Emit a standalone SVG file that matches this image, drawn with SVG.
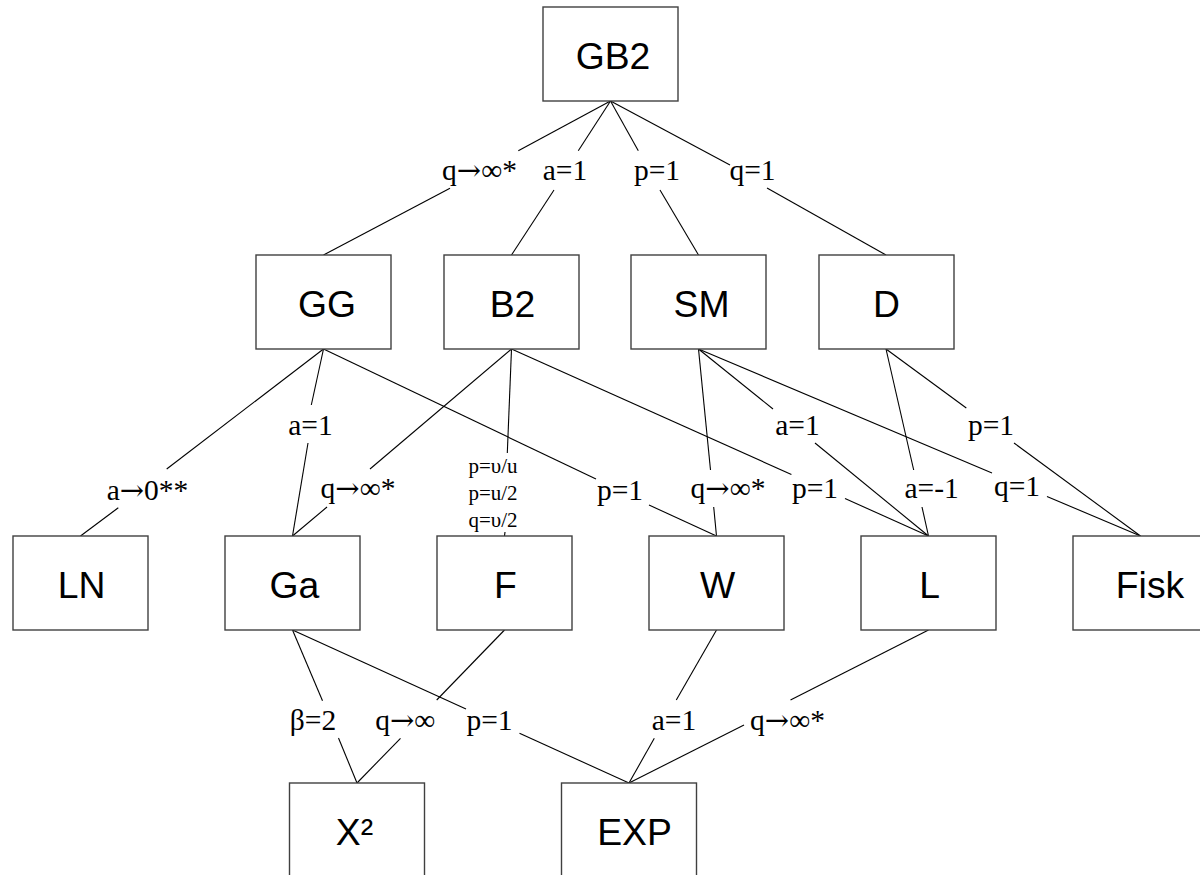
<svg xmlns="http://www.w3.org/2000/svg" width="1200" height="875" viewBox="0 0 1200 875">
<style>
.box{fill:#fff;stroke:#404040;stroke-width:1.4}
.nt{font-family:"Liberation Sans",Arial,sans-serif;font-size:37.3px;text-anchor:middle;fill:#000}
.lb{font-family:"Liberation Serif","Times New Roman",serif;font-size:29.5px;text-anchor:middle;fill:#000}
.sm{font-family:"Liberation Serif","Times New Roman",serif;font-size:21px;text-anchor:middle;fill:#000}
.ar{font-family:"DejaVu Serif","DejaVu Sans",serif;font-size:29px}
.cn line{stroke:#000;stroke-width:1.1}
</style>
<rect width="1200" height="875" fill="#fff"/>
<g id="connectors" class="cn">
<line x1="610.5" y1="101" x2="518.3" y2="150.7"/><line x1="450" y1="188.3" x2="323.5" y2="255"/>
<line x1="610.5" y1="101" x2="578.3" y2="150.7"/><line x1="554" y1="190" x2="511.5" y2="255"/>
<line x1="610.5" y1="101" x2="638.3" y2="150.7"/><line x1="660" y1="190" x2="698.5" y2="255"/>
<line x1="610.5" y1="101" x2="730" y2="165"/><line x1="767" y1="188" x2="886" y2="255"/>
<line x1="323.5" y1="349" x2="166.7" y2="469"/><line x1="118.3" y1="507.7" x2="80.5" y2="536"/>
<line x1="323.5" y1="349" x2="311.3" y2="405"/><line x1="308" y1="443" x2="292.5" y2="536"/>
<line x1="323.5" y1="349" x2="596" y2="479"/><line x1="649" y1="505" x2="716.5" y2="536"/>
<line x1="511.5" y1="349" x2="370" y2="469"/><line x1="327" y1="507" x2="292.5" y2="536"/>
<line x1="511.5" y1="349" x2="507.3" y2="453"/><line x1="505" y1="532" x2="504.5" y2="536"/>
<line x1="511.5" y1="349" x2="791.4" y2="474.5"/><line x1="845" y1="498.5" x2="928.5" y2="536"/>
<line x1="698.5" y1="349" x2="710.5" y2="470"/><line x1="713.7" y1="507" x2="716.5" y2="536"/>
<line x1="698.5" y1="349" x2="773" y2="409"/><line x1="815" y1="443" x2="928.5" y2="536"/>
<line x1="698.5" y1="349" x2="992" y2="473"/><line x1="1047" y1="496.5" x2="1140.5" y2="536"/>
<line x1="886" y1="349" x2="913.7" y2="470"/><line x1="922" y1="507" x2="928.5" y2="536"/>
<line x1="886" y1="349" x2="966.3" y2="408"/><line x1="1014" y1="443" x2="1140.5" y2="536"/>
<line x1="292.5" y1="630" x2="322.5" y2="700.7"/><line x1="338.5" y1="738" x2="357" y2="783"/>
<line x1="504.5" y1="630" x2="436.7" y2="700"/><line x1="400.5" y1="738.3" x2="357" y2="783"/>
<line x1="292.5" y1="630" x2="466" y2="708.9"/><line x1="519.5" y1="733.3" x2="629" y2="783"/>
<line x1="716.5" y1="630" x2="676.3" y2="700"/><line x1="654.3" y1="738.3" x2="629" y2="783"/>
<line x1="928.5" y1="630" x2="790.5" y2="700"/><line x1="744" y1="725" x2="629" y2="783"/>
</g>
<g id="labels">
<text class="lb" x="479.5" y="180">q<tspan class="ar">→</tspan>∞*</text>
<text class="lb" x="565" y="180">a=1</text>
<text class="lb" x="657" y="180">p=1</text>
<text class="lb" x="752.5" y="180">q=1</text>
<text class="lb" x="147.5" y="500">a<tspan class="ar">→</tspan>0**</text>
<text class="lb" x="310.5" y="435">a=1</text>
<text class="lb" x="358" y="498">q<tspan class="ar">→</tspan>∞*</text>
<text class="sm" x="493" y="473">p=υ/u</text>
<text class="sm" x="493" y="500">p=u/2</text>
<text class="sm" x="493" y="527">q=υ/2</text>
<text class="lb" x="620" y="500">p=1</text>
<text class="lb" x="728" y="498">q<tspan class="ar">→</tspan>∞*</text>
<text class="lb" x="815" y="498">p=1</text>
<text class="lb" x="797.5" y="435">a=1</text>
<text class="lb" x="931.6" y="498">a=-1</text>
<text class="lb" x="1017" y="496">q=1</text>
<text class="lb" x="991" y="435">p=1</text>
<text class="lb" x="313" y="730">β=2</text>
<text class="lb" x="405.3" y="730">q<tspan class="ar">→</tspan>∞</text>
<text class="lb" x="489.5" y="730">p=1</text>
<text class="lb" x="674" y="730">a=1</text>
<text class="lb" x="787.5" y="730">q<tspan class="ar">→</tspan>∞*</text>
</g>
<g id="GB2"><rect class="box" x="543" y="7" width="135" height="94"/><text class="nt" x="613" y="69">GB2</text></g>
<g id="GG"><rect class="box" x="256" y="255" width="135" height="94"/><text class="nt" x="327" y="317">GG</text></g>
<g id="B2"><rect class="box" x="444" y="255" width="135" height="94"/><text class="nt" x="512.5" y="317">B2</text></g>
<g id="SM"><rect class="box" x="631" y="255" width="135" height="94"/><text class="nt" x="701.5" y="317">SM</text></g>
<g id="D"><rect class="box" x="819" y="255" width="135" height="94"/><text class="nt" x="886.5" y="317">D</text></g>
<g id="LN"><rect class="box" x="13" y="536" width="135" height="94"/><text class="nt" x="81.7" y="598">LN</text></g>
<g id="Ga"><rect class="box" x="225" y="536" width="135" height="94"/><text class="nt" x="294.3" y="598">Ga</text></g>
<g id="F"><rect class="box" x="437" y="536" width="135" height="94"/><text class="nt" x="505.5" y="598">F</text></g>
<g id="W"><rect class="box" x="649" y="536" width="135" height="94"/><text class="nt" x="717.5" y="598">W</text></g>
<g id="L"><rect class="box" x="861" y="536" width="135" height="94"/><text class="nt" x="929.5" y="598">L</text></g>
<g id="Fisk"><rect class="box" x="1073" y="536" width="154" height="94"/><text class="nt" x="1150" y="598">Fisk</text></g>
<g id="X2"><rect class="box" x="289.5" y="783" width="135" height="100"/><text class="nt" x="354.5" y="845">X²</text></g>
<g id="EXP"><rect class="box" x="561.5" y="783" width="135" height="100"/><text class="nt" x="634.5" y="845">EXP</text></g>
</svg>
